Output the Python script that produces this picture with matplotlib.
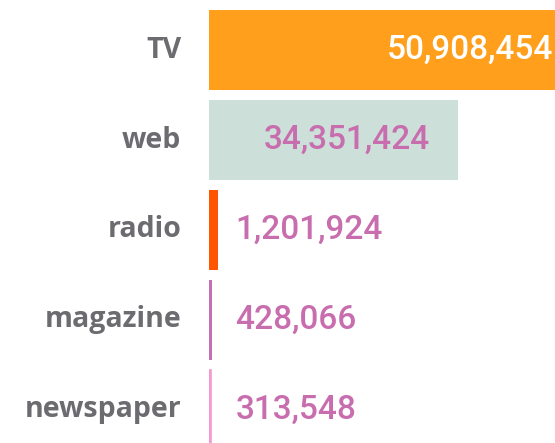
import matplotlib
matplotlib.use("Agg")
import matplotlib.pyplot as plt

categories = ["TV", "web", "radio", "magazine", "newspaper"]
values = [50908454, 34351424, 1201924, 428066, 313548]
labels = ["50,908,454", "34,351,424", "1,201,924", "428,066", "313,548"]
colors = ["#FF9F1C", "#CCE0D9", "#FF5400", "#C470B0", "#F49AD0"]
inside = [True, True, False, False, False]
label_colors = ["#FFFFFF", "#C86DAE", "#C86DAE", "#C86DAE", "#C86DAE"]

W, H = 555, 443
fig = plt.figure(figsize=(W / 100, H / 100), dpi=100)
left_px = 209
ax = fig.add_axes([left_px / W, 0, (W - left_px) / W, 1])
px_per_unit = 249 / 34351424
ax.set_xlim(0, (W - left_px) / px_per_unit)
spacing = 90.0
top = -50 / spacing
ax.set_ylim(top + H / spacing, top)

ys = list(range(len(categories)))
bars = ax.barh(ys, values, height=0.88, color=colors, linewidth=0)
# keep very thin bars visible like the reference
for b, v in zip(bars, values):
    if v * px_per_unit < 3:
        b.set_edgecolor(b.get_facecolor())
        b.set_linewidth(1.2)

ax.set_axis_off()

vfont = ["Roboto", "DejaVu Sans"]
for y, v, lab, ins, lc in zip(ys, values, labels, inside, label_colors):
    if ins:
        pad = -18 if v * px_per_unit > (W - left_px) else -20
        ax.annotate(lab, xy=(v, y), xytext=(pad, 0), textcoords="offset points",
                    ha="right", va="center", color=lc, fontsize=24,
                    family=vfont, fontweight="medium", annotation_clip=False)
    else:
        ax.annotate(lab, xy=(0, y), xytext=(19, 0), textcoords="offset points",
                    ha="left", va="center", color=lc, fontsize=24,
                    family=vfont, fontweight="medium")

for y, c in zip(ys, categories):
    ax.annotate(c, xy=(0, y), xytext=(-20, 0), textcoords="offset points",
                ha="right", va="center", color="#6C6C70", fontsize=20.5,
                family=["Open Sans", "DejaVu Sans"], fontweight="bold",
                annotation_clip=False)

fig.savefig("out.png", dpi=100)
